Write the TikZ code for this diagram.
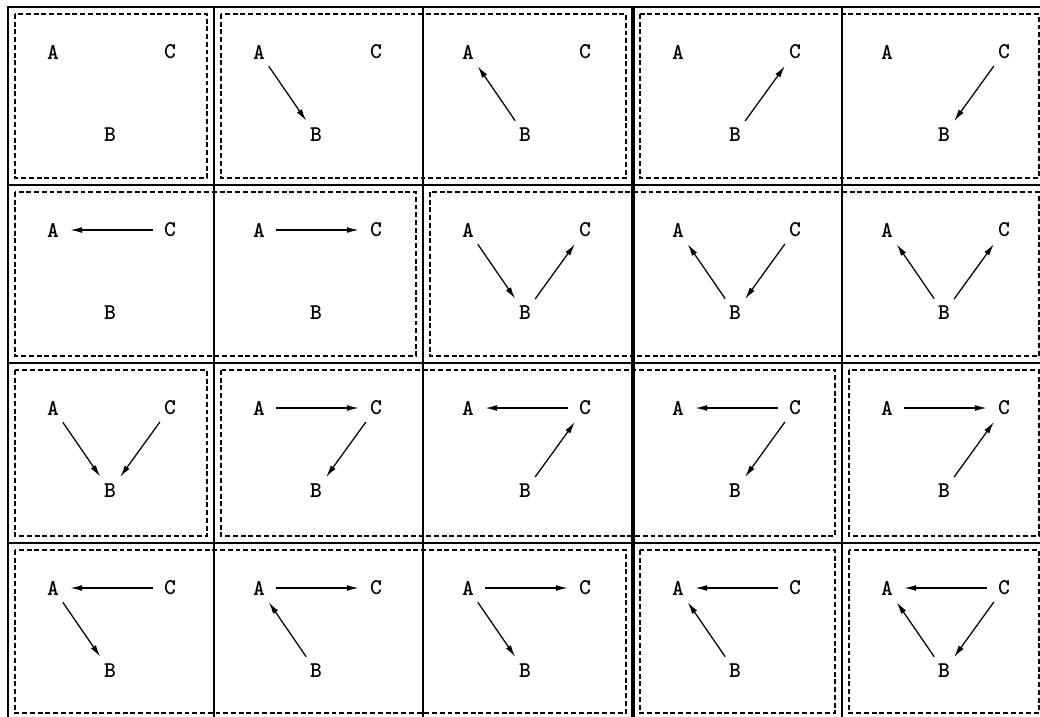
\documentclass[tikz,border=0pt]{standalone}
\usetikzlibrary{arrows.meta}

% the three vertices of one cell: name, left, top
\newcommand{\abc}[3]{%
  \node[vtx] (#1a) at (#2+45,#3+45)   {A};
  \node[vtx] (#1c) at (#2+162,#3+45)  {C};
  \node[vtx] (#1b) at (#2+102,#3+128) {B};
}

\begin{document}
\begin{tikzpicture}[
  x=0.025cm, y=-0.025cm,
  vtx/.style={circle, minimum size=0.85cm, inner sep=0pt, font=\ttfamily\bfseries\fontsize{16}{18}\selectfont},
  arr/.style={-{Latex[length=8.5pt,width=4.2pt]}, line width=0.9pt},
  cellline/.style={line width=1.2pt},
  grp/.style={dash pattern=on 3.5pt off 2pt, line width=1.1pt}
]
\useasboundingbox (0,0) rectangle (1040,717);

% table
\draw[cellline] (8,7) rectangle (1046,720);
\draw[cellline] (214,7) -- (214,720);
\draw[cellline] (423,7) -- (423,720);
\draw[line width=2.6pt] (633,7) -- (633,720);
\draw[cellline] (842,7) -- (842,720);
\draw[cellline] (8,185) -- (1046,185);
\draw[cellline] (8,363) -- (1046,363);
\draw[cellline] (8,543) -- (1046,543);

% dashed groups
\draw[grp] (15,14) rectangle (207,178);
\draw[grp] (221,14) rectangle (626,178);
\draw[grp] (640,14) rectangle (1039,178);
\draw[grp] (15,192) rectangle (416,356);
\draw[grp] (430,192) rectangle (1039,356);
\draw[grp] (15,370) rectangle (207,536);
\draw[grp] (221,370) rectangle (835,536);
\draw[grp] (849,370) rectangle (1039,536);
\draw[grp] (15,550) rectangle (626,713);
\draw[grp] (640,550) rectangle (835,713);
\draw[grp] (849,550) rectangle (1039,713);

% vertices
\abc{c11}{8}{7}   \abc{c12}{214}{7}   \abc{c13}{423}{7}   \abc{c14}{633}{7}   \abc{c15}{842}{7}
\abc{c21}{8}{185} \abc{c22}{214}{185} \abc{c23}{423}{185} \abc{c24}{633}{185} \abc{c25}{842}{185}
\abc{c31}{8}{363} \abc{c32}{214}{363} \abc{c33}{423}{363} \abc{c34}{633}{363} \abc{c35}{842}{363}
\abc{c41}{8}{543} \abc{c42}{214}{543} \abc{c43}{423}{543} \abc{c44}{633}{543} \abc{c45}{842}{543}

% row 1
\draw[arr] (c12a) -- (c12b);
\draw[arr] (c13b) -- (c13a);
\draw[arr] (c14b) -- (c14c);
\draw[arr] (c15c) -- (c15b);

% row 2
\draw[arr] (c21c) -- (c21a);
\draw[arr] (c22a) -- (c22c);
\draw[arr] (c23a) -- (c23b);
\draw[arr] (c23b) -- (c23c);
\draw[arr] (c24b) -- (c24a);
\draw[arr] (c24c) -- (c24b);
\draw[arr] (c25b) -- (c25a);
\draw[arr] (c25b) -- (c25c);

% row 3
\draw[arr] (c31a) -- (c31b);
\draw[arr] (c31c) -- (c31b);
\draw[arr] (c32a) -- (c32c);
\draw[arr] (c32c) -- (c32b);
\draw[arr] (c33c) -- (c33a);
\draw[arr] (c33b) -- (c33c);
\draw[arr] (c34c) -- (c34a);
\draw[arr] (c34c) -- (c34b);
\draw[arr] (c35a) -- (c35c);
\draw[arr] (c35b) -- (c35c);

% row 4
\draw[arr] (c41c) -- (c41a);
\draw[arr] (c41a) -- (c41b);
\draw[arr] (c42a) -- (c42c);
\draw[arr] (c42b) -- (c42a);
\draw[arr] (c43a) -- (c43c);
\draw[arr] (c43a) -- (c43b);
\draw[arr] (c44c) -- (c44a);
\draw[arr] (c44b) -- (c44a);
\draw[arr] (c45c) -- (c45a);
\draw[arr] (c45b) -- (c45a);
\draw[arr] (c45c) -- (c45b);
\end{tikzpicture}
\end{document}
